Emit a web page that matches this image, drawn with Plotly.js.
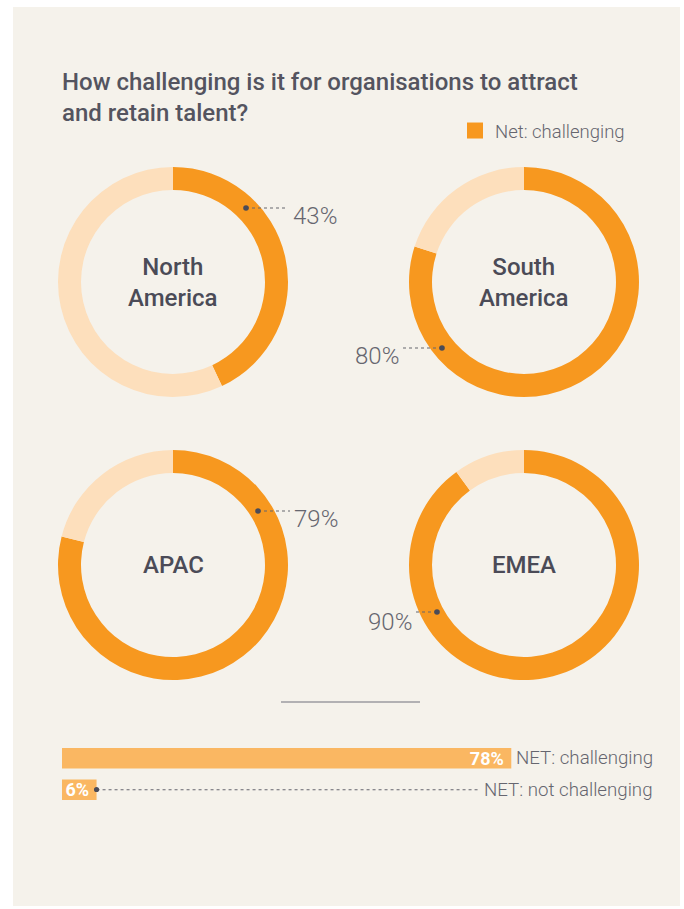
<!DOCTYPE html>
<html><head><meta charset="utf-8">
<script src="https://cdn.plot.ly/plotly-3.0.1.min.js"></script>
<style>html,body{margin:0;padding:0;background:#fff;}#chart{width:684px;height:909px;}</style>
</head><body><div id="chart"></div>
<script>
// ---- data ----
const regions = ["North America", "South America", "APAC", "EMEA"];
const regionLabels = ["North<br>America", "South<br>America", "APAC", "EMEA"];
const challenging = [43, 80, 79, 90];
const sliceLabels = ["Net: challenging", "Net: not challenging"];
const netCategories = ["NET: challenging", "NET: not challenging"];
const netValues = [78, 6];

// ---- layout helpers ----
const W = 684, H = 909;
const px = x => x / W, py = y => 1 - y / H;
const ORANGE = '#F7981F', LIGHT = '#FDDFBC', BAR = '#FAB762', BG = '#F5F2EB';
const TXT = '#4B4B57', GREY = '#66666F', DOT = '#4B4B57';
const FONT = 'Roboto';

const centers = [[173, 282], [524, 282], [173, 565], [524, 565]];
const R = 115;
// leader: dot position, line end, text anchor
const leaders = [
  {dot: [246, 208], end: [287, 208], tx: 291, ty: 216, anchor: 'left'},
  {dot: [442, 348], end: [403, 348], tx: 401, ty: 356, anchor: 'right'},
  {dot: [258, 511], end: [290, 511], tx: 292, ty: 519, anchor: 'left'},
  {dot: [437, 612], end: [414, 612], tx: 414, ty: 622, anchor: 'right'}
];

const traces = [];
const annotations = [];
const shapes = [];

shapes.push({type: 'rect', xref: 'paper', yref: 'paper', x0: px(13), x1: px(680), y0: py(906), y1: py(7),
  fillcolor: BG, line: {width: 0}, layer: 'below'});

regions.forEach((r, i) => {
  const [cx, cy] = centers[i];
  traces.push({
    type: 'pie', name: r, labels: sliceLabels,
    values: [challenging[i], 100 - challenging[i]],
    hole: 0.8, sort: false, direction: 'clockwise', rotation: 0,
    marker: {colors: [ORANGE, LIGHT], line: {width: 0}},
    textinfo: 'none', hoverinfo: 'label+value', showlegend: false,
    domain: {x: [px(cx - R), px(cx + R)], y: [py(cy + R), py(cy - R)]}
  });
  annotations.push({
    xref: 'paper', yref: 'paper', x: px(cx), y: py(cy), xanchor: 'center', yanchor: 'middle',
    showarrow: false, text: regionLabels[i], align: 'center',
    font: {family: FONT, size: 24, weight: 500, color: TXT}
  });
  const L = leaders[i];
  shapes.push({type: 'line', xref: 'paper', yref: 'paper',
    x0: px(L.dot[0]), y0: py(L.dot[1]), x1: px(L.end[0]), y1: py(L.end[1]),
    line: {color: GREY, width: 1.2, dash: 'dot'}});
  shapes.push({type: 'circle', xref: 'paper', yref: 'paper',
    x0: px(L.dot[0] - 2.8), x1: px(L.dot[0] + 2.8), y0: py(L.dot[1] + 2.8), y1: py(L.dot[1] - 2.8),
    fillcolor: DOT, line: {width: 0}});
  annotations.push({
    xref: 'paper', yref: 'paper', x: px(L.tx), y: py(L.ty), xanchor: L.anchor, yanchor: 'middle',
    showarrow: false, text: challenging[i] + '%',
    font: {family: FONT, size: 24, weight: 300, color: GREY}
  });
});

// legend dummy
traces.push({type: 'scatter', mode: 'markers', x: [null], y: [null], name: sliceLabels[0],
  marker: {symbol: 'square', size: 16, color: ORANGE}, showlegend: true, hoverinfo: 'skip'});

// horizontal bars
const BX0 = 62, BX1 = 638;
traces.push({
  type: 'bar', orientation: 'h', y: netCategories, x: netValues,
  marker: {color: BAR, line: {width: 0}}, width: 0.645,
  text: netValues.map(v => v + '%\u00A0'), textposition: 'inside', insidetextanchor: 'end',
  constraintext: 'none', cliponaxis: false,
  textfont: {family: FONT, size: 18, weight: 700, color: '#FFFFFF'},
  showlegend: false, hoverinfo: 'x+y', xaxis: 'x', yaxis: 'y'
});
netCategories.forEach((c, i) => {
  annotations.push({xref: 'paper', yref: 'y', x: px(655), y: c, xanchor: 'right', yanchor: 'middle',
    showarrow: false, text: c, font: {family: FONT, size: 18.7, weight: 300, color: GREY}});
});
// leader for small bar
const sx = BX0 + netValues[1] / 100 * (BX1 - BX0);
shapes.push({type: 'line', xref: 'paper', yref: 'y', x0: px(sx), x1: px(478), y0: netCategories[1], y1: netCategories[1],
  line: {color: GREY, width: 1.2, dash: 'dot'}});
shapes.push({type: 'circle', xref: 'paper', yref: 'paper',
  x0: px(sx - 2.6), x1: px(sx + 2.6), y0: py(789.5 + 2.6), y1: py(789.5 - 2.6),
  fillcolor: DOT, line: {width: 0}});

// separator
shapes.push({type: 'line', xref: 'paper', yref: 'paper', x0: px(281), x1: px(420), y0: py(702), y1: py(702),
  line: {color: '#9B9BA0', width: 1.5}});

const layout = {
  width: W, height: H, margin: {l: 0, r: 0, t: 0, b: 0},
  paper_bgcolor: '#FFFFFF', plot_bgcolor: 'rgba(0,0,0,0)',
  title: {text: 'How challenging is it for organisations to attract<br>and retain talent?',
    font: {family: FONT, size: 24, weight: 500, color: '#54545F'},
    x: px(62), xanchor: 'left', y: py(90), yanchor: 'top', xref: 'container', yref: 'container'},
  showlegend: true,
  legend: {x: px(455), y: py(112), xanchor: 'left', yanchor: 'top', bgcolor: 'rgba(0,0,0,0)',
    font: {family: FONT, size: 18.5, weight: 300, color: GREY}},
  xaxis: {domain: [px(BX0), px(BX1)], range: [0, 100], visible: false, fixedrange: true},
  yaxis: {domain: [py(805.5), py(742.5)], range: [1.5, -0.5], type: 'category', visible: false, fixedrange: true},
  shapes: shapes, annotations: annotations
};
Plotly.newPlot('chart', traces, layout, {displayModeBar: false, staticPlot: true});
</script></body></html>
